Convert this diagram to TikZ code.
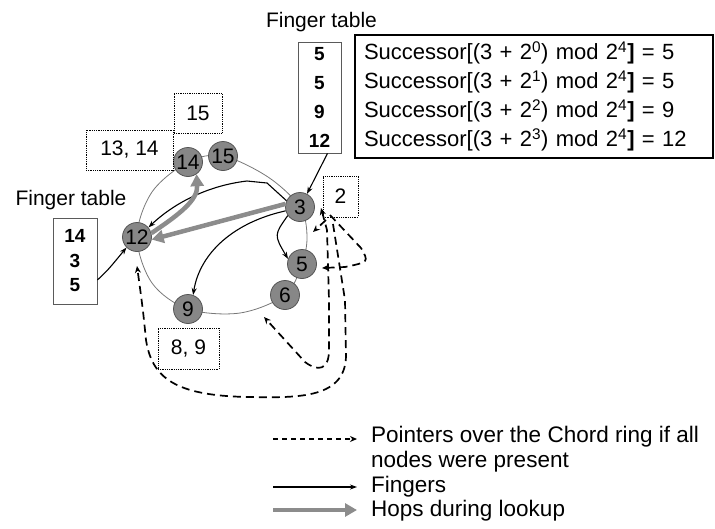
\documentclass[tikz,border=0pt]{standalone}
\usepackage{fontspec}
\setmainfont{Liberation Sans}
\usetikzlibrary{arrows.meta,calc}
\definecolor{nodegray}{RGB}{135,135,135}
\definecolor{nodeedge}{RGB}{85,85,85}
\definecolor{hopgray}{RGB}{140,140,140}
\definecolor{ringgray}{RGB}{120,120,120}
\definecolor{boxgray}{RGB}{90,90,90}
\pgfdeclarelayer{bg}
\pgfsetlayers{bg,main}
\begin{document}
\begin{tikzpicture}[x=1pt,y=-1pt,
  every node/.style={font=\fontsize{21}{24}\selectfont},
  peer/.style={circle, fill=nodegray, draw=nodeedge, line width=0.8pt,
    minimum size=29pt, inner sep=0pt, font=\fontsize{21}{24}\selectfont},
  keys/.style={draw=black, densely dotted, line width=0.8pt, inner sep=0pt},
  ftab/.style={draw=boxgray, line width=0.8pt, inner sep=0pt, align=center},
  finger/.style={-{Stealth[length=7pt,width=5pt]}, line width=1.1pt, black},
  hop/.style={-{Triangle[length=12pt,width=13pt]}, line width=4.5pt, hopgray},
  pointer/.style={-{Stealth[length=7pt,width=6pt]}, line width=1.7pt,
    dash pattern=on 8pt off 5pt},
  legendtext/.style={anchor=west, inner sep=0pt, font=\fontsize{22.5}{24}\selectfont},
]
\useasboundingbox (0,0) rectangle (715,528);

% ---- peers on the ring ----
\node[peer] (n14) at (188,162) {14};
\node[peer] (n15) at (223,156) {15};
\node[peer] (n3)  at (300,207) {3};
\node[peer] (n5)  at (302,264) {5};
\node[peer] (n6)  at (285,295) {6};
\node[peer] (n9)  at (188,309) {9};
\node[peer] (n12) at (137,237) {12};

\begin{pgfonlayer}{bg}
  \draw[ringgray, line width=0.8pt] plot[smooth cycle, tension=0.55] coordinates
    {(223,156) (268,177) (300,207) (307,236) (302,264) (285,295) (240,313)
     (188,309) (152,283) (137,237) (152,192) (188,162)};
\end{pgfonlayer}

% ---- keys stored at each peer ----
\node[keys, minimum width=48pt, minimum height=40pt] (k15) at (198,113) {15};
\node[keys, minimum width=87pt, minimum height=40pt] (k14) at (129.5,150) {13, 14};
\node[keys, minimum width=35pt, minimum height=41pt] (k3)  at (340.5,196.5) {2};
\node[keys, minimum width=61pt, minimum height=41pt] (k9)  at (188.5,348.5) {8, 9};

% ---- finger tables ----
\node (ftTop)  at (321.5,22)  {Finger table};
\node (ftLeft) at (71,200)  {Finger table};
\node[ftab, minimum width=43pt, minimum height=111pt,
  font=\fontsize{19}{29}\selectfont\bfseries] (tab3) at (319.5,97.5) {5\\5\\9\\12};
\node[ftab, minimum width=44pt, minimum height=86pt,
  font=\fontsize{19}{24.5}\selectfont\bfseries] (tab12) at (75,261) {14\\3\\5};

\node[draw=black, line width=1.6pt, minimum width=358pt, minimum height=123pt,
  text width=340pt, align=left, inner xsep=9pt,
  font=\fontsize{22}{29}\selectfont] (succ) at (534,96.5)
  {Successor[(3 + 2\textsuperscript{0}) mod 2\textsuperscript{4}\textbf{]} = 5\\
   Successor[(3 + 2\textsuperscript{1}) mod 2\textsuperscript{4}\textbf{]} = 5\\
   Successor[(3 + 2\textsuperscript{2}) mod 2\textsuperscript{4}\textbf{]} = 9\\
   Successor[(3 + 2\textsuperscript{3}) mod 2\textsuperscript{4}\textbf{]} = 12};

\draw[finger] ($(tab3.south)+(8,0)$) -- (n3.62);
\draw[finger] ($(tab12.east)+(0,19)$) .. controls (108,270) .. (n12.225);

% ---- fingers of peer 3 ----
\draw[finger] (n3.155) -- (267,183) -- (247,181)
  .. controls (205,186) and (172,205) .. (n12.40);
\draw[finger] (n3.195) .. controls (235,222) and (200,252) .. (n9.70);
\draw[finger] (n3.215) .. controls (274,235) .. (n5.160);

% ---- hops during the lookup ----
\draw[hop] (n3.168) -- (n12.-10);
\draw[hop] (n12.15) .. controls (180,214) and (198,200) .. (n14.-55);

% ---- ideal pointers of peer 3 ----
\coordinate (p3) at (321,208);
\coordinate (p4) at (313,232);
\coordinate (p5) at (322,268);
\coordinate (p7) at (264,317);
\coordinate (p11) at (137,266);
\draw[pointer] (326,220) -- (p4);
\draw[pointer] (330,215) -- (361,248) .. controls (369,262) .. (345,267) -- (p5);
\draw[pointer, {Stealth[length=7pt,width=6pt]}-{Stealth[length=7pt,width=6pt]}]
  (p3) -- (327,230) -- (329,300) -- (329,350)
  .. controls (329,370) and (318,372) .. (305,362) -- (p7);
\draw[pointer] (333,224) -- (345,300) -- (346,355)
  .. controls (346,398) and (300,398) .. (250,397)
  .. controls (175,396) and (152,378) .. (146,340)
  .. controls (143,310) .. (p11);

% ---- legend ----
\coordinate (la1) at (273,439); \coordinate (lb1) at (357,439);
\coordinate (la2) at (273,487); \coordinate (lb2) at (357,487);
\coordinate (la3) at (273,510); \coordinate (lb3) at (357,510);
\draw[pointer, line width=1.1pt, dash pattern=on 5pt off 4pt] (la1) -- (lb1);
\draw[finger] (la2) -- (lb2);
\draw[hop] (la3) -- (lb3);
\node[legendtext] (lt1) at (371,437) {Pointers over the Chord ring if all};
\node[legendtext] (lt2) at (371,462) {nodes were present};
\node[legendtext] (lt3) at (371,487) {Fingers};
\node[legendtext] (lt4) at (371,511) {Hops during lookup};
\end{tikzpicture}
\end{document}
